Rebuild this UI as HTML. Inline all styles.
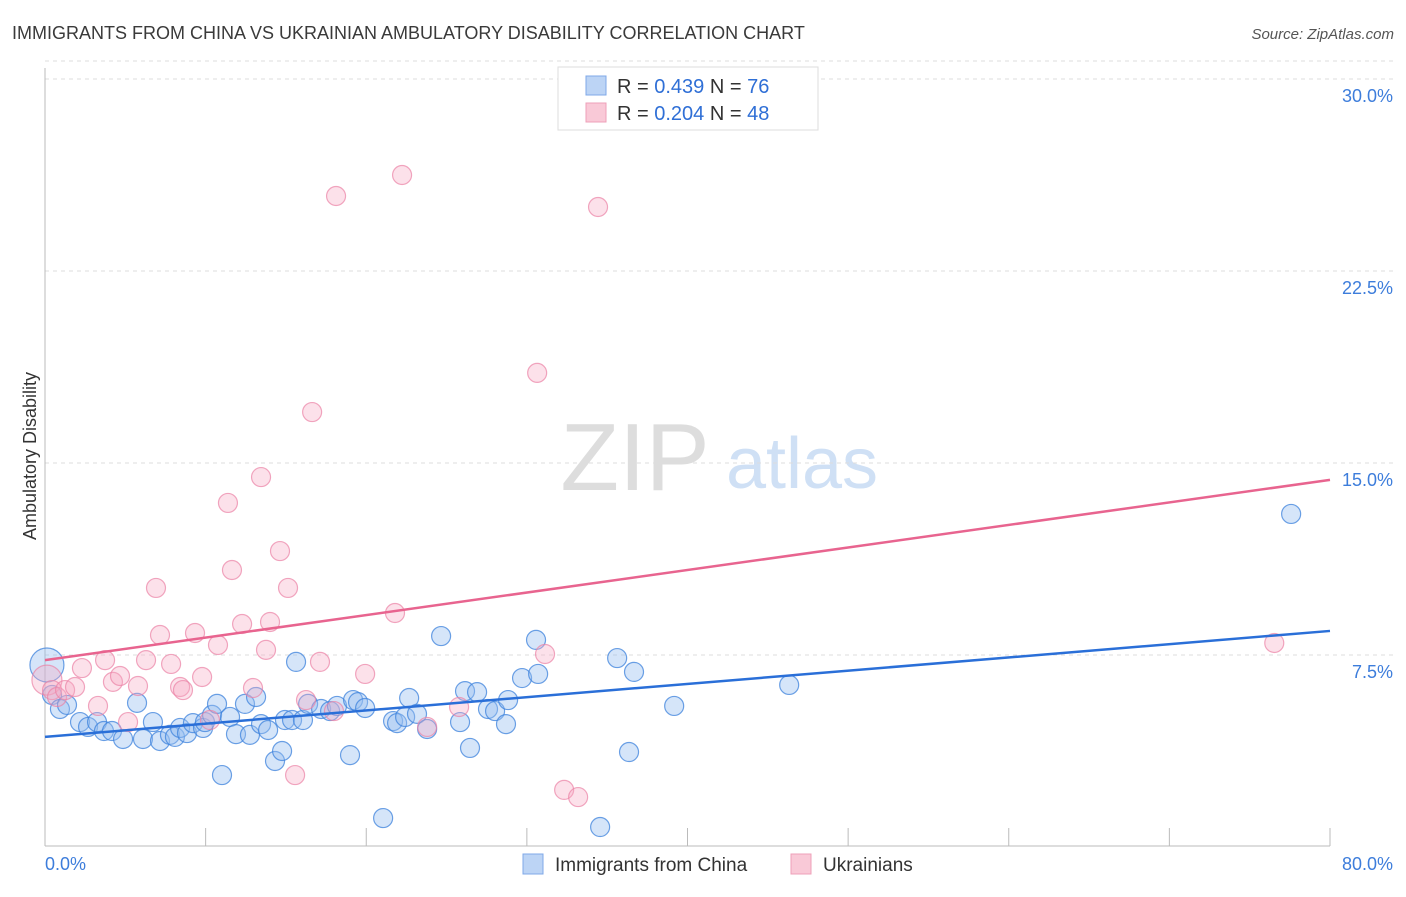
<!DOCTYPE html>
<html><head><meta charset="utf-8">
<style>
body{margin:0;background:#fff;font-family:"Liberation Sans",sans-serif;}
svg text{font-family:"Liberation Sans",sans-serif;}
</style></head>
<body>
<svg id="c" width="1406" height="892" viewBox="0 0 1406 892">
<text x="12" y="39" font-size="18" fill="#3a3a3a">IMMIGRANTS FROM CHINA VS UKRAINIAN AMBULATORY DISABILITY CORRELATION CHART</text>
<text x="1394" y="39" font-size="15" fill="#555" font-style="italic" text-anchor="end">Source: ZipAtlas.com</text>
<text x="36" y="456" font-size="18" fill="#333" text-anchor="middle" transform="rotate(-90 36 456)">Ambulatory Disability</text>
<g>
<text x="635" y="490" font-size="96" fill="#ddd" font-family="Liberation Serif, serif" text-anchor="middle">ZIP</text>
<text x="802" y="488" font-size="72" fill="#cfe0f5" text-anchor="middle">atlas</text>
</g>
<g id="grid"></g>
<g id="axes"></g>
<g id="pts"></g>
<g id="lines"></g>
<g>
<rect x="558" y="67" width="260" height="63" fill="#fff" stroke="#ddd"/>
<rect x="586" y="76" width="20" height="19" fill="#bcd4f5" stroke="#7fa8e8"/>
<text x="617" y="93" font-size="20" fill="#333">R = <tspan fill="#2f6fd6">0.439</tspan>   N = <tspan fill="#2f6fd6">76</tspan></text>
<rect x="586" y="103" width="20" height="19" fill="#f9c9d7" stroke="#eea0b8"/>
<text x="617" y="120" font-size="20" fill="#333">R = <tspan fill="#2f6fd6">0.204</tspan>   N = <tspan fill="#2f6fd6">48</tspan></text>
</g>
<g>
<rect x="523" y="854" width="20" height="20" fill="#bcd4f5" stroke="#7fa8e8"/>
<text x="555" y="871" font-size="19" fill="#333">Immigrants from China</text>
<rect x="791" y="854" width="20" height="20" fill="#f9c9d7" stroke="#eea0b8"/>
<text x="823" y="871" font-size="19" fill="#333">Ukrainians</text>
</g>
</svg>
<script>
const xTicks=[0,10,20,30,40,50,60,70,80];
const yTicks=[7.5,15,22.5,30];
const yTickLabels=["7.5%","15.0%","22.5%","30.0%"];
const chinaX=[0.12,0.44,0.93,1.37,2.18,2.68,3.24,3.67,4.17,4.86,5.73,6.10,6.72,7.16,7.78,8.09,8.41,8.84,9.21,9.84,9.96,10.40,10.71,11.02,11.52,11.89,12.45,12.76,13.14,13.45,13.89,14.32,14.76,14.94,15.38,15.63,16.06,16.38,17.19,17.75,18.18,18.99,19.18,19.49,19.93,21.05,21.67,21.92,22.42,22.67,23.16,23.79,24.66,25.84,26.15,26.46,26.90,27.58,28.02,28.70,28.83,29.70,30.57,30.70,34.56,35.62,36.36,36.67,39.17,46.33,77.58];
const chinaY=[7.11,5.94,5.39,5.55,4.88,4.69,4.88,4.53,4.53,4.22,5.63,4.22,4.88,4.14,4.38,4.30,4.65,4.45,4.84,4.65,4.88,5.16,5.59,2.81,5.08,4.41,5.59,4.38,5.86,4.80,4.57,3.36,3.75,4.96,4.96,7.23,4.96,5.59,5.39,5.31,5.51,3.59,5.74,5.66,5.43,1.13,4.92,4.84,5.08,5.82,5.20,4.61,8.24,4.88,6.09,3.87,6.05,5.39,5.31,4.80,5.74,6.60,8.09,6.76,0.78,7.38,3.71,6.84,5.51,6.33,13.01];
const ukrX=[0.12,0.44,0.75,1.25,1.87,2.30,3.30,3.74,4.23,4.67,5.17,5.79,6.29,6.91,7.16,7.85,8.41,8.59,9.34,9.78,10.27,10.77,11.39,11.64,12.27,12.95,13.45,13.76,14.01,14.63,15.13,15.57,16.25,16.63,17.12,17.99,18.12,19.93,21.79,22.23,23.79,25.78,30.64,31.13,32.32,33.19,34.43,76.53];
const ukrY=[6.52,6.13,5.86,6.13,6.25,6.99,5.51,7.30,6.45,6.68,4.88,6.29,7.30,10.12,8.28,7.15,6.25,6.13,8.36,6.64,4.96,7.89,13.44,10.82,8.71,6.21,14.45,7.70,8.79,11.56,10.12,2.81,5.74,16.99,7.23,5.31,25.43,6.76,9.14,26.25,4.69,5.47,18.52,7.54,2.23,1.95,25.0,7.97];
const chinaTrend=[4.30,8.44];
const ukrTrend=[7.30,14.34];
const NS="http://www.w3.org/2000/svg";
const X=v=>45+v/80*1285, Y=v=>847-v/7.5*192;
function mk(t,a,p){const e=document.createElementNS(NS,t);for(const k in a)e.setAttribute(k,a[k]);p.appendChild(e);return e;}
const grid=document.getElementById('grid'),axes=document.getElementById('axes'),pts=document.getElementById('pts'),lines=document.getElementById('lines');
yTicks.forEach((v,i)=>{
 const l=mk('line',{x1:45,x2:1394,y1:Y(v),y2:Y(v),stroke:'#ddd','stroke-dasharray':'4 4'},grid);
 
 
 const t=mk('text',{x:1393,y:Y(v)+23,'font-size':18,fill:'#3d7ddb','text-anchor':'end'},axes);
 t.textContent=yTickLabels[i];
 
 
});
mk('line',{x1:45,x2:1394,y1:Y(30)-18,y2:Y(30)-18,stroke:'#ddd','stroke-dasharray':'4 4'},grid);
const ya=mk('line',{x1:45,x2:45,y1:68,y2:846,stroke:'#bbb'},axes);


const xa=mk('line',{x1:45,x2:1330,y1:846,y2:846,stroke:'#bbb'},axes);


xTicks.forEach(v=>{const t=mk('line',{x1:X(v),x2:X(v),y1:828,y2:846,stroke:'#bbb'},axes);
 
 });
const xl0=mk('text',{x:45,y:870,'font-size':18,fill:'#3d7ddb'},axes);xl0.textContent='0.0%';


const xl1=mk('text',{x:1393,y:870,'font-size':18,fill:'#3d7ddb','text-anchor':'end'},axes);xl1.textContent='80.0%';


chinaX.forEach((v,i)=>{const c=mk('circle',{cx:X(v),cy:Y(chinaY[i]),r:i==0?17:9.5,fill:'rgba(150,190,240,0.4)',stroke:'rgba(60,130,220,0.75)','stroke-width':1.2},pts);
 
 });
ukrX.forEach((v,i)=>{const c=mk('circle',{cx:X(v),cy:Y(ukrY[i]),r:i==0?15:9.5,fill:'rgba(245,170,195,0.35)',stroke:'rgba(235,130,165,0.7)','stroke-width':1.2},pts);
 
 });
const bl=mk('line',{x1:X(0),x2:X(80),y1:Y(chinaTrend[0]),y2:Y(chinaTrend[1]),stroke:'#2a6fd8','stroke-width':2.5},lines);


const pl=mk('line',{x1:X(0),x2:X(80),y1:Y(ukrTrend[0]),y2:Y(ukrTrend[1]),stroke:'#e8648f','stroke-width':2.5},lines);


</script>
</body></html>
